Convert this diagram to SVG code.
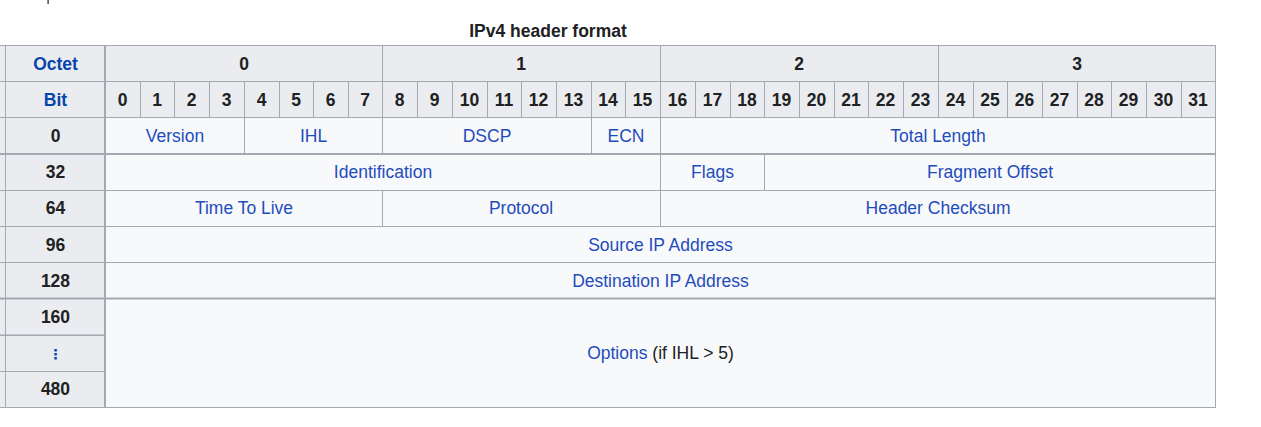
<svg xmlns="http://www.w3.org/2000/svg" width="1261" height="427" viewBox="0 0 1261 427">
  <defs>
    <style>
      .hd { fill: #eaecf0; stroke: #a2a9b1; stroke-width: 1; }
      .cl { fill: #f8f9fa; stroke: #a2a9b1; stroke-width: 1; }
      .rule { stroke: #a2a9b1; stroke-width: 2; fill: none; }
      text { font-family: "Liberation Sans", Arial, sans-serif; font-size: 17.5px; text-anchor: middle; }
      .b { font-weight: bold; fill: #202122; }
      .lb { font-weight: bold; fill: #0645ad; }
      .lk { fill: #1f4cbd; }
      .tx { fill: #202122; }
    </style>
  </defs>
  <rect width="1261" height="427" fill="#ffffff"/>
  <rect x="47.5" y="0" width="1.2" height="4" fill="#202122"/>

  <text class="b" x="548" y="37">IPv4 header format</text>

  <!-- left edge column (cut off) -->
  <g id="edge-column">
    <rect class="hd" x="-5.5" y="45.5" width="11" height="36"/>
    <rect class="hd" x="-5.5" y="81.5" width="11" height="36"/>
    <rect class="hd" x="-5.5" y="117.5" width="11" height="36.5"/>
    <rect class="hd" x="-5.5" y="154.5" width="11" height="36"/>
    <rect class="hd" x="-5.5" y="190.5" width="11" height="36"/>
    <rect class="hd" x="-5.5" y="226.5" width="11" height="36"/>
    <rect class="hd" x="-5.5" y="262.5" width="11" height="36"/>
    <rect class="hd" x="-5.5" y="298.5" width="11" height="36.5"/>
    <rect class="hd" x="-5.5" y="335.5" width="11" height="36"/>
    <rect class="hd" x="-5.5" y="371.5" width="11" height="36"/>
  </g>

  <!-- octet header row -->
  <g id="octet-header">
    <rect class="hd" x="5.5" y="45.5" width="100" height="36"/>
    <text class="lb" x="55.5" y="69.5">Octet</text>
    <rect class="hd" x="105.5" y="45.5" width="277" height="36"/>
    <text class="b" x="244" y="69.5">0</text>
    <rect class="hd" x="382.5" y="45.5" width="278" height="36"/>
    <text class="b" x="521" y="69.5">1</text>
    <rect class="hd" x="660.5" y="45.5" width="278" height="36"/>
    <text class="b" x="799" y="69.5">2</text>
    <rect class="hd" x="938.5" y="45.5" width="277" height="36"/>
    <text class="b" x="1077" y="69.5">3</text>
  </g>

  <!-- bit header row -->
  <g id="bit-header">
    <rect class="hd" x="5.5" y="81.5" width="100" height="36"/>
    <text class="lb" x="55.5" y="105.5">Bit</text>
    <rect class="hd" x="105.5" y="81.5" width="35" height="36"/>
    <rect class="hd" x="140.5" y="81.5" width="34" height="36"/>
    <rect class="hd" x="174.5" y="81.5" width="35" height="36"/>
    <rect class="hd" x="209.5" y="81.5" width="35" height="36"/>
    <rect class="hd" x="244.5" y="81.5" width="35" height="36"/>
    <rect class="hd" x="279.5" y="81.5" width="34" height="36"/>
    <rect class="hd" x="313.5" y="81.5" width="35" height="36"/>
    <rect class="hd" x="348.5" y="81.5" width="34" height="36"/>
    <rect class="hd" x="382.5" y="81.5" width="35" height="36"/>
    <rect class="hd" x="417.5" y="81.5" width="35" height="36"/>
    <rect class="hd" x="452.5" y="81.5" width="35" height="36"/>
    <rect class="hd" x="487.5" y="81.5" width="34" height="36"/>
    <rect class="hd" x="521.5" y="81.5" width="35" height="36"/>
    <rect class="hd" x="556.5" y="81.5" width="35" height="36"/>
    <rect class="hd" x="591.5" y="81.5" width="34" height="36"/>
    <rect class="hd" x="625.5" y="81.5" width="35" height="36"/>
    <rect class="hd" x="660.5" y="81.5" width="35" height="36"/>
    <rect class="hd" x="695.5" y="81.5" width="35" height="36"/>
    <rect class="hd" x="730.5" y="81.5" width="34" height="36"/>
    <rect class="hd" x="764.5" y="81.5" width="35" height="36"/>
    <rect class="hd" x="799.5" y="81.5" width="35" height="36"/>
    <rect class="hd" x="834.5" y="81.5" width="34" height="36"/>
    <rect class="hd" x="868.5" y="81.5" width="35" height="36"/>
    <rect class="hd" x="903.5" y="81.5" width="35" height="36"/>
    <rect class="hd" x="938.5" y="81.5" width="35" height="36"/>
    <rect class="hd" x="973.5" y="81.5" width="34" height="36"/>
    <rect class="hd" x="1007.5" y="81.5" width="35" height="36"/>
    <rect class="hd" x="1042.5" y="81.5" width="35" height="36"/>
    <rect class="hd" x="1077.5" y="81.5" width="34" height="36"/>
    <rect class="hd" x="1111.5" y="81.5" width="35" height="36"/>
    <rect class="hd" x="1146.5" y="81.5" width="35" height="36"/>
    <rect class="hd" x="1181.5" y="81.5" width="34" height="36"/>
    <text class="b" x="122.5" y="105.5">0</text>
    <text class="b" x="157" y="105.5">1</text>
    <text class="b" x="191.5" y="105.5">2</text>
    <text class="b" x="226.5" y="105.5">3</text>
    <text class="b" x="261.5" y="105.5">4</text>
    <text class="b" x="296" y="105.5">5</text>
    <text class="b" x="330.5" y="105.5">6</text>
    <text class="b" x="365" y="105.5">7</text>
    <text class="b" x="399.5" y="105.5">8</text>
    <text class="b" x="434.5" y="105.5">9</text>
    <text class="b" x="469.5" y="105.5">10</text>
    <text class="b" x="504" y="105.5">11</text>
    <text class="b" x="538.5" y="105.5">12</text>
    <text class="b" x="573.5" y="105.5">13</text>
    <text class="b" x="608" y="105.5">14</text>
    <text class="b" x="642.5" y="105.5">15</text>
    <text class="b" x="677.5" y="105.5">16</text>
    <text class="b" x="712.5" y="105.5">17</text>
    <text class="b" x="747" y="105.5">18</text>
    <text class="b" x="781.5" y="105.5">19</text>
    <text class="b" x="816.5" y="105.5">20</text>
    <text class="b" x="851" y="105.5">21</text>
    <text class="b" x="885.5" y="105.5">22</text>
    <text class="b" x="920.5" y="105.5">23</text>
    <text class="b" x="955.5" y="105.5">24</text>
    <text class="b" x="990" y="105.5">25</text>
    <text class="b" x="1024.5" y="105.5">26</text>
    <text class="b" x="1059.5" y="105.5">27</text>
    <text class="b" x="1094" y="105.5">28</text>
    <text class="b" x="1128.5" y="105.5">29</text>
    <text class="b" x="1163.5" y="105.5">30</text>
    <text class="b" x="1198" y="105.5">31</text>
  </g>

  <!-- word offset labels -->
  <g id="offsets">
    <rect class="hd" x="5.5" y="117.5" width="100" height="36.5"/>
    <text class="b" x="55.5" y="142">0</text>
    <rect class="hd" x="5.5" y="154.5" width="100" height="36"/>
    <text class="b" x="55.5" y="178">32</text>
    <rect class="hd" x="5.5" y="190.5" width="100" height="36"/>
    <text class="b" x="55.5" y="214">64</text>
    <rect class="hd" x="5.5" y="226.5" width="100" height="36"/>
    <text class="b" x="55.5" y="250.5">96</text>
    <rect class="hd" x="5.5" y="262.5" width="100" height="36"/>
    <text class="b" x="55.5" y="286.5">128</text>
    <rect class="hd" x="5.5" y="298.5" width="100" height="36.5"/>
    <text class="b" x="55.5" y="323">160</text>
    <rect class="hd" x="5.5" y="335.5" width="100" height="36"/>
    <text class="lb" x="55.5" y="358.5" style="font-family: 'DejaVu Sans', sans-serif; font-size: 14px;">⋮</text>
    <rect class="hd" x="5.5" y="371.5" width="100" height="36"/>
    <text class="b" x="55.5" y="395">480</text>
  </g>

  <!-- header fields -->
  <g id="field-version">
    <rect class="cl" x="105.5" y="117.5" width="139" height="36.5"/>
    <text class="lk" x="175" y="142">Version</text>
  </g>
  <g id="field-ihl">
    <rect class="cl" x="244.5" y="117.5" width="138" height="36.5"/>
    <text class="lk" x="313.5" y="142">IHL</text>
  </g>
  <g id="field-dscp">
    <rect class="cl" x="382.5" y="117.5" width="209" height="36.5"/>
    <text class="lk" x="487" y="142">DSCP</text>
  </g>
  <g id="field-ecn">
    <rect class="cl" x="591.5" y="117.5" width="69" height="36.5"/>
    <text class="lk" x="626" y="142">ECN</text>
  </g>
  <g id="field-total-length">
    <rect class="cl" x="660.5" y="117.5" width="555" height="36.5"/>
    <text class="lk" x="938" y="142">Total Length</text>
  </g>
  <g id="field-identification">
    <rect class="cl" x="105.5" y="154.5" width="555" height="36"/>
    <text class="lk" x="383" y="178">Identification</text>
  </g>
  <g id="field-flags">
    <rect class="cl" x="660.5" y="154.5" width="104" height="36"/>
    <text class="lk" x="712.5" y="178">Flags</text>
  </g>
  <g id="field-fragment-offset">
    <rect class="cl" x="764.5" y="154.5" width="451" height="36"/>
    <text class="lk" x="990" y="178">Fragment Offset</text>
  </g>
  <g id="field-ttl">
    <rect class="cl" x="105.5" y="190.5" width="277" height="36"/>
    <text class="lk" x="244" y="214">Time To Live</text>
  </g>
  <g id="field-protocol">
    <rect class="cl" x="382.5" y="190.5" width="278" height="36"/>
    <text class="lk" x="521" y="214">Protocol</text>
  </g>
  <g id="field-header-checksum">
    <rect class="cl" x="660.5" y="190.5" width="555" height="36"/>
    <text class="lk" x="938" y="214">Header Checksum</text>
  </g>
  <g id="field-source">
    <rect class="cl" x="105.5" y="226.5" width="1110" height="36"/>
    <text class="lk" x="660.5" y="250.5">Source IP Address</text>
  </g>
  <g id="field-destination">
    <rect class="cl" x="105.5" y="262.5" width="1110" height="36"/>
    <text class="lk" x="660.5" y="286.5">Destination IP Address</text>
  </g>
  <g id="field-options">
    <rect class="cl" x="105.5" y="298.5" width="1110" height="109"/>
    <text x="660.5" y="359"><tspan class="lk">Options</tspan><tspan class="tx"> (if IHL &gt; 5)</tspan></text>
  </g>

  <!-- heavier rules between sections -->
  <g id="connectors">
    <line class="rule" x1="0" y1="154" x2="1216" y2="154"/>
    <line class="rule" x1="0" y1="298.5" x2="1216" y2="298.5"/>
    <line class="rule" x1="105" y1="45" x2="105" y2="408"/>
  </g>
</svg>
